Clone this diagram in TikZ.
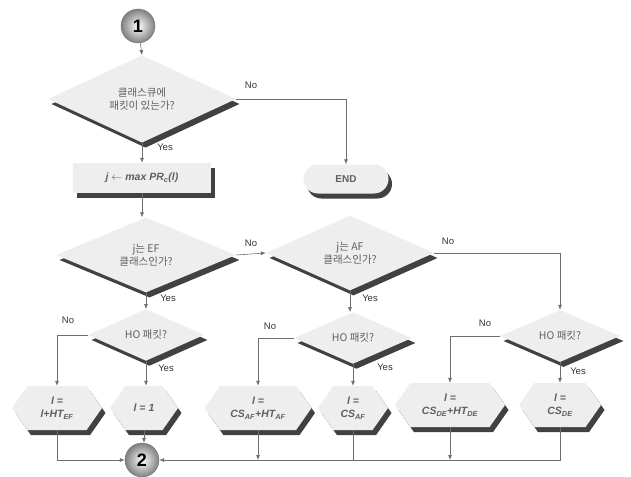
\documentclass[tikz,border=0pt]{standalone}
\usepackage{fontspec}
\setmainfont{Liberation Sans}
\newfontfamily\kr{Noto Sans CJK KR}
\usetikzlibrary{shapes.geometric,shapes.symbols,shapes.misc,shadows,arrows.meta}
\definecolor{flowfill}{RGB}{238,238,238}
\definecolor{flowshade}{RGB}{65,65,65}
\definecolor{flowline}{RGB}{110,110,110}
\definecolor{flowtext}{RGB}{95,95,95}
\tikzset{
  shd/.style={general shadow={fill=flowshade,shadow xshift=3.5pt,shadow yshift=-5pt}},
  dec/.style={diamond,fill=flowfill,shd,inner sep=0pt,align=center,text=flowtext,font=\kr\fontsize{10.5}{12.5}\selectfont},
  proc/.style={rectangle,fill=flowfill,shd,inner sep=0pt,text=flowtext,font=\fontsize{10.5}{12}\selectfont\bfseries\itshape},
  hexa/.style={signal,signal to=west and east,signal pointer angle=110,fill=flowfill,shd,inner sep=0pt,
    minimum height=44pt,align=center,text=flowtext,font=\fontsize{10.5}{13}\selectfont\bfseries\itshape},
  term/.style={rounded rectangle,fill=flowfill,shd,inner sep=0pt,text=flowtext,font=\bfseries\fontsize{10}{12}\selectfont},
  conn/.style={circle,shading=radial,inner color=white,outer color=black!50,draw=black!55,
    minimum size=34pt,inner sep=0pt,font=\bfseries\fontsize{18}{18}\selectfont},
  lbl/.style={text=black!80,font=\fontsize{9.5}{10}\selectfont},
  arr/.style={->,flowline,line width=0.6pt},
  >={Latex[length=5pt,width=4pt]}
}
\begin{document}
\begin{tikzpicture}[x=1pt,y=-1pt]
  \useasboundingbox (0,0) rectangle (631,476);
  % nodes
  \node[conn] (c1) at (138,26) {1};
  \node[dec,minimum width=188pt,minimum height=72pt] (d1) at (142,99) {클래스큐에\\패킷이 있는가?};
  \node[proc,minimum width=138pt,minimum height=30pt] (box) at (142,178) {j $\leftarrow$ max PR\textsubscript{c}(l)};
  \node[term,minimum width=85pt,minimum height=29pt] (endn) at (346,179) {END};
  \node[dec,minimum width=180pt,minimum height=66pt] (d2) at (146,255) {j는 EF\\클래스인가?};
  \node[dec,minimum width=168pt,minimum height=68pt] (d3) at (350,253) {j는 AF\\클래스인가?};
  \node[dec,minimum width=116pt,minimum height=50pt] (d4) at (146,335) {HO 패킷?};
  \node[dec,minimum width=118pt,minimum height=48pt] (d5) at (353,338) {HO 패킷?};
  \node[dec,minimum width=120pt,minimum height=52pt] (d6) at (560,336) {HO 패킷?};
  \node[hexa,minimum width=90pt] (h1) at (57,408) {l =\\l+HT\textsubscript{EF}};
  \node[hexa,minimum width=68pt] (h2) at (144,408) {l = 1};
  \node[hexa,minimum width=107pt] (h3) at (258,408) {l =\\CS\textsubscript{AF}+HT\textsubscript{AF}};
  \node[hexa,minimum width=70pt] (h4) at (353,408) {l =\\CS\textsubscript{AF}};
  \node[hexa,minimum width=110pt] (h5) at (450,405) {l =\\CS\textsubscript{DE}+HT\textsubscript{DE}};
  \node[hexa,minimum width=82pt] (h6) at (560,405) {l =\\CS\textsubscript{DE}};
  \node[conn] (c2) at (142,460) {2};
  % labels
  \node[lbl] (no1) at (251,85) {No};
  \node[lbl] (yes1) at (165,147) {Yes};
  \node[lbl] (no2) at (251,243) {No};
  \node[lbl] (yes2) at (168,298) {Yes};
  \node[lbl] (no3) at (448,241) {No};
  \node[lbl] (yes3) at (370,298) {Yes};
  \node[lbl] (no4) at (68,320) {No};
  \node[lbl] (yes4) at (166,368) {Yes};
  \node[lbl] (no5) at (270,326) {No};
  \node[lbl] (yes5) at (385,367) {Yes};
  \node[lbl] (no6) at (485,323) {No};
  \node[lbl] (yes6) at (578,371) {Yes};
  % connectors
  \draw[arr] (c1) -- (d1.north);
  \draw[arr] (d1.east) -| (endn.north);
  \draw[arr] (d1.south) -- (d1.south |- box.north);
  \draw[arr] (box.south) -- (box.south |- d2.north);
  \draw[arr] (d2.east) -- (d3.west);
  \draw[arr] (d3.east) -| (d6.north);
  \draw[arr] (d2.south) -- (d4.north);
  \draw[arr] (d3.south) -- (d3.south |- d5.north);
  \draw[arr] (d4.west) -| (h1.north);
  \draw[arr] (d4.south) -- (d4.south |- h2.north);
  \draw[arr] (d5.west) -| (h3.north);
  \draw[arr] (d5.south) -- (h4.north);
  \draw[arr] (d6.west) -| (h5.north);
  \draw[arr] (d6.south) -- (h6.north);
  \draw[arr] (h1.south) |- (c2.west);
  \draw[arr] (h2.south) -- (h2.south |- c2.north);
  \draw[arr] (h6.south) |- (c2.east);
  \draw[arr] (h3.south) -- (h3.south |- c2.east);
  \draw[arr] (h5.south) -- (h5.south |- c2.east);
  \draw[flowline,line width=0.6pt] (h4.south) -- (h4.south |- c2.east);
\end{tikzpicture}
\end{document}
